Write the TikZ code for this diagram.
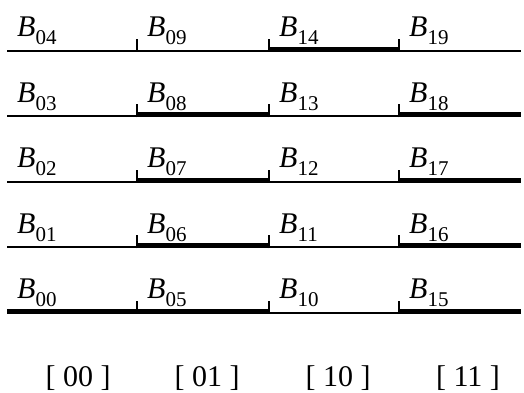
\documentclass[tikz,border=0pt]{standalone}
\usepackage{fontspec}
\setmainfont{Liberation Serif}
\newcommand{\Blab}[1]{\textit{B}\raisebox{-8pt}{\fontsize{21}{21}\selectfont #1}}
\begin{document}
\begin{tikzpicture}[x=1pt,y=1pt,
  thinline/.style={line width=2pt},
  thickline/.style={line width=5pt},
  tickmark/.style={line width=1.5pt},
  lab/.style={anchor=base west, inner sep=0pt, font=\fontsize{30}{30}\selectfont},
  code/.style={anchor=base, inner sep=0pt, font=\fontsize{30}{30}\selectfont}]
\useasboundingbox (0,0) rectangle (524,393);
\foreach \r/\yy in {0/79,1/144.5,2/210,3/275.5,4/341} {
  \foreach \c/\xx in {0/7,1/137,2/269,3/399,4/521} {
    \coordinate (p\r\c) at (\xx,\yy);
  }
  \draw[thinline] ([yshift=1pt]p\r0) -- ([yshift=1pt]p\r4);
  \foreach \c in {1,2,3} {
    \draw[tickmark] (p\r\c) -- ([yshift=13pt]p\r\c);
  }
}
\foreach \r/\a/\b in {0/0/2, 0/3/4, 1/1/2, 1/3/4, 2/1/2, 2/3/4, 3/1/2, 3/3/4, 4/2/3} {
  \draw[thickline] ([yshift=2.5pt]p\r\a) -- ([yshift=2.5pt]p\r\b);
}
\foreach \r/\c/\t in {0/0/00,1/0/01,2/0/02,3/0/03,4/0/04,
                      0/1/05,1/1/06,2/1/07,3/1/08,4/1/09,
                      0/2/10,1/2/11,2/2/12,3/2/13,4/2/14,
                      0/3/15,1/3/16,2/3/17,3/3/18,4/3/19} {
  \node[lab] (L\t) at ([xshift=10pt,yshift=15pt]p\r\c) {\Blab{\t}};
}
\node[code] (k00) at (78,6) {[ 00 ]};
\node[code] (k01) at (207,6) {[ 01 ]};
\node[code] (k10) at (338,6) {[ 10 ]};
\node[code] (k11) at (468,6) {[ 11 ]};
\end{tikzpicture}
\end{document}
